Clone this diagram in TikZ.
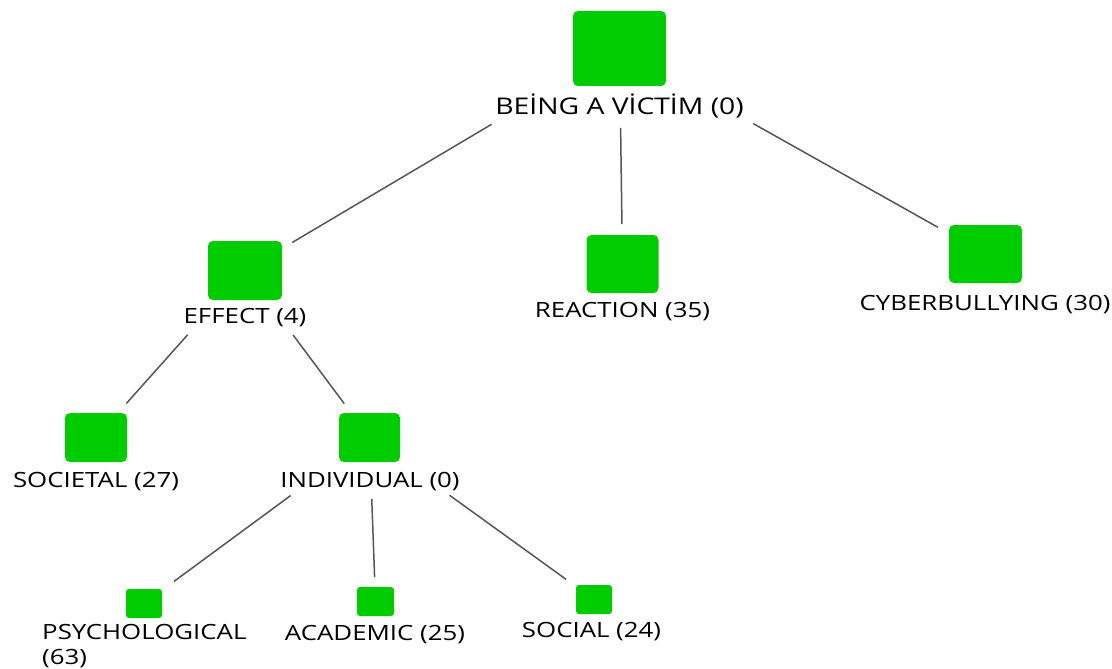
\documentclass[tikz,border=0pt]{standalone}
\usepackage{fontspec}
\setmainfont{Open Sans}[FakeStretch=1.23]
\begin{document}
\begin{tikzpicture}[x=1pt,y=-1pt,
  leaf/.style={fill=nodegreen, draw=none, rounded corners=5pt, inner sep=0pt},
  tag/.style={font=\fontsize{21}{25}\selectfont, text=black, inner sep=0pt, anchor=base},
  link/.style={draw=linkgray, line width=1.5pt}]
\definecolor{nodegreen}{HTML}{00CC00}
\definecolor{linkgray}{HTML}{555555}
\useasboundingbox (0,0) rectangle (1112,669);

% boxes
\node[leaf, minimum width=93pt, minimum height=75pt] (root) at (619.5,48.5) {};
\node[leaf, minimum width=74pt, minimum height=59pt] (effect) at (245,270.5) {};
\node[leaf, minimum width=72pt, minimum height=58pt] (reaction) at (622.5,264) {};
\node[leaf, minimum width=73pt, minimum height=58pt] (cyber) at (985.5,254) {};
\node[leaf, minimum width=62pt, minimum height=49pt] (societal) at (96,437.5) {};
\node[leaf, minimum width=61pt, minimum height=49pt] (individual) at (369.5,437.5) {};
\node[leaf, rounded corners=3pt, minimum width=36pt, minimum height=29pt] (psych) at (144,603.5) {};
\node[leaf, rounded corners=3pt, minimum width=37pt, minimum height=29pt] (academic) at (375.5,601.5) {};
\node[leaf, rounded corners=3pt, minimum width=36pt, minimum height=29pt] (social) at (594,599.5) {};

% labels
\node[tag, font=\fontsize{23}{28}\selectfont] (rootlbl) at (619.5,114) {BEİNG A VİCTİM (0)};
\node[tag] (effectlbl) at (245,323) {EFFECT (4)};
\node[tag] (reactionlbl) at (622.5,317) {REACTION (35)};
\node[tag] (cyberlbl) at (985,310) {CYBERBULLYING (30)};
\node[tag] (societallbl) at (96,487) {SOCIETAL (27)};
\node[tag] (individuallbl) at (370,487) {INDIVIDUAL (0)};
\node[tag, anchor=base west, align=left] (psychlbl) at (42,664) {PSYCHOLOGICAL\\(63)};
\node[tag] (academiclbl) at (375,640) {ACADEMIC (25)};
\node[tag] (sociallbl) at (591.5,637) {SOCIAL (24)};

% connectors, centre to centre, trimmed clear of boxes and labels
\draw[link, shorten <=148.7pt, shorten >=55pt] (root.center) -- (effect.center);
\draw[link, shorten <=79.5pt, shorten >=40pt] (root.center) -- (reaction.center);
\draw[link, shorten <=153.4pt, shorten >=54.6pt] (root.center) -- (cyber.center);
\draw[link, shorten <=86.1pt, shorten >=45.7pt] (effect.center) -- (societal.center);
\draw[link, shorten <=80.4pt, shorten >=42.3pt] (effect.center) -- (individual.center);
\draw[link, shorten <=97.9pt, shorten >=37.1pt] (individual.center) -- (psych.center);
\draw[link, shorten <=61.5pt, shorten >=24.5pt] (individual.center) -- (academic.center);
\draw[link, shorten <=98.7pt, shorten >=34.4pt] (individual.center) -- (social.center);
\end{tikzpicture}
\end{document}
